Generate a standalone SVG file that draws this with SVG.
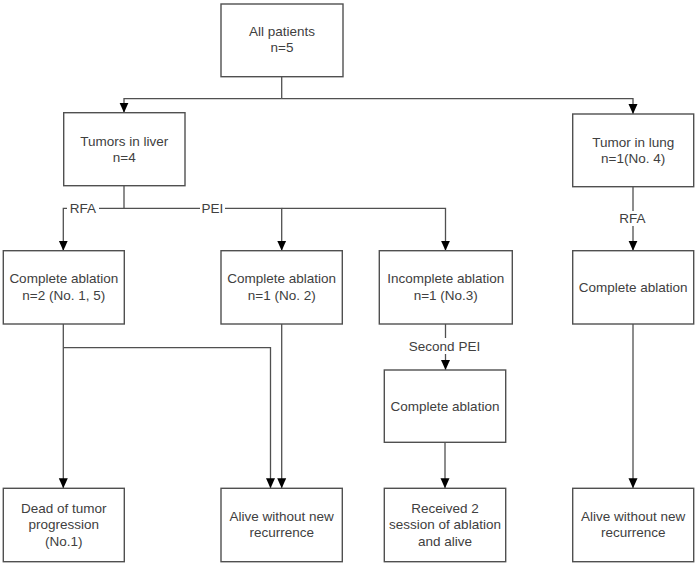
<svg xmlns="http://www.w3.org/2000/svg" width="697" height="566" viewBox="0 0 697 566">
<style>
.box{fill:#fff;stroke:#505050;stroke-width:1.4}
.ln{fill:none;stroke:#505050;stroke-width:1.3}
text{font-family:"Liberation Sans",Arial,sans-serif;font-size:13.5px;fill:#404040;text-anchor:middle}
.bg{fill:#fff}
</style>
<defs>
<marker id="ah" markerUnits="userSpaceOnUse" markerWidth="10" markerHeight="10" viewBox="0 0 10 10" refX="10" refY="5" orient="auto">
<path d="M0,0.5 L10,5 L0,9.5 Z" fill="#000"/>
</marker>
</defs>
<rect width="697" height="566" fill="#fff"/>
<g id="connectors">
<path class="ln" d="M281.7,76.7 V98.7"/>
<path class="ln" d="M281.7,98.7 H124 V112.7" marker-end="url(#ah)"/>
<path class="ln" d="M281.7,98.7 H633 V114" marker-end="url(#ah)"/>
<path class="ln" d="M124,185.7 V208.3"/>
<path class="ln" d="M124,208.3 H63.3 V250.7" marker-end="url(#ah)"/>
<path class="ln" d="M124,208.3 H281.7 V250.7" marker-end="url(#ah)"/>
<path class="ln" d="M281.7,208.3 H445.5 V250.7" marker-end="url(#ah)"/>
<path class="ln" d="M633,186.7 V250.7" marker-end="url(#ah)"/>
<path class="ln" d="M63.3,324 V488.3" marker-end="url(#ah)"/>
<path class="ln" d="M63.3,347.7 H270.5 V488.3" marker-end="url(#ah)"/>
<path class="ln" d="M281.7,324 V488.3" marker-end="url(#ah)"/>
<path class="ln" d="M445.5,324 V370" marker-end="url(#ah)"/>
<path class="ln" d="M445,442.3 V488.3" marker-end="url(#ah)"/>
<path class="ln" d="M633,324 V488.3" marker-end="url(#ah)"/>
<rect class="bg" x="67" y="201" width="32" height="14"/>
<text x="83" y="213">RFA</text>
<rect class="bg" x="200" y="201" width="25" height="14"/>
<text x="212.5" y="213">PEI</text>
<rect class="bg" x="617" y="211" width="31" height="15"/>
<text x="632.5" y="223">RFA</text>
<rect class="bg" x="406" y="338" width="77" height="16"/>
<text x="444.5" y="351">Second PEI</text>
</g>
<g id="all-patients">
<rect class="box" x="221" y="4" width="122" height="72.7"/>
<text x="282" y="36">All patients</text>
<text x="282" y="52">n=5</text>
</g>
<g id="liver">
<rect class="box" x="63.7" y="112.7" width="121.3" height="73"/>
<text x="124.3" y="145.5">Tumors in liver</text>
<text x="124.3" y="161.5">n=4</text>
</g>
<g id="lung">
<rect class="box" x="572.7" y="114" width="121" height="72.7"/>
<text x="633.2" y="146.5">Tumor in lung</text>
<text x="633.2" y="162.5">n=1(No. 4)</text>
</g>
<g id="complete-rfa">
<rect class="box" x="3.3" y="250.7" width="121" height="73.3"/>
<text x="63.8" y="283.3">Complete ablation</text>
<text x="63.8" y="299.5">n=2 (No. 1, 5)</text>
</g>
<g id="complete-pei">
<rect class="box" x="221" y="250.7" width="121.3" height="73.3"/>
<text x="281.7" y="283.3">Complete ablation</text>
<text x="281.7" y="299.5">n=1 (No. 2)</text>
</g>
<g id="incomplete">
<rect class="box" x="379.3" y="250.7" width="133" height="73.3"/>
<text x="445.8" y="283.3">Incomplete ablation</text>
<text x="445.8" y="299.5">n=1 (No.3)</text>
</g>
<g id="complete-lung">
<rect class="box" x="572.7" y="250.7" width="121" height="73.3"/>
<text x="633.2" y="291.7">Complete ablation</text>
</g>
<g id="complete-second">
<rect class="box" x="384.3" y="370" width="121.4" height="72.3"/>
<text x="445" y="410.5">Complete ablation</text>
</g>
<g id="dead">
<rect class="box" x="3.3" y="488.3" width="121" height="73.4"/>
<text x="63.8" y="513.3">Dead of tumor</text>
<text x="63.8" y="529.3">progression</text>
<text x="63.8" y="545.5">(No.1)</text>
</g>
<g id="alive-liver">
<rect class="box" x="221" y="488.3" width="121.3" height="73.4"/>
<text x="281.7" y="520.7">Alive without new</text>
<text x="281.7" y="536.7">recurrence</text>
</g>
<g id="received">
<rect class="box" x="384.3" y="488.3" width="121.4" height="73.4"/>
<text x="445" y="513.3">Received 2</text>
<text x="445" y="529.3">session of ablation</text>
<text x="445" y="545.5">and alive</text>
</g>
<g id="alive-lung">
<rect class="box" x="572.7" y="488.3" width="121" height="73.4"/>
<text x="633.2" y="520.7">Alive without new</text>
<text x="633.2" y="536.7">recurrence</text>
</g>
</svg>
